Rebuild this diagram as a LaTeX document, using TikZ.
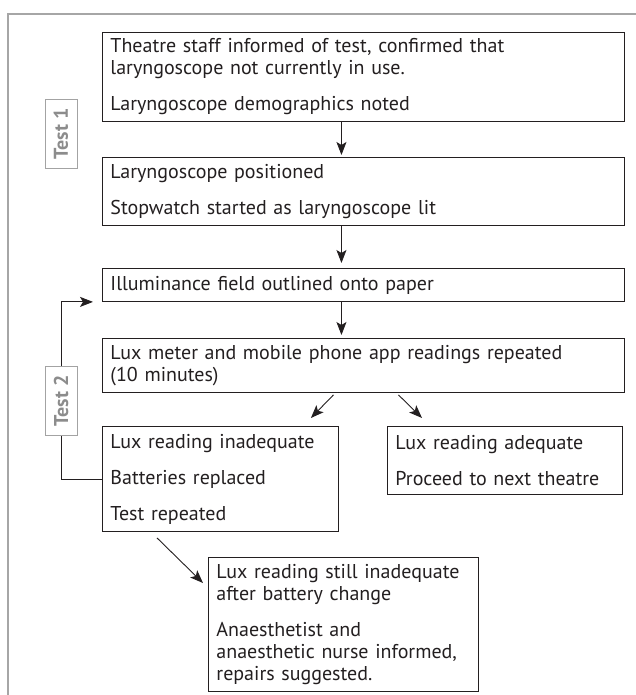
\documentclass[tikz,border=0pt]{standalone}
\usepackage{fontspec}
\setmainfont{PT Sans}
\usetikzlibrary{arrows.meta, positioning, calc}
\definecolor{FlowInk}{HTML}{231F20}
\definecolor{FrameGrey}{HTML}{A6A6A6}
\definecolor{TagGrey}{HTML}{8C8C8C}

\tikzset{
  stepbox/.style={draw=FlowInk, line width=0.9pt, anchor=north west, align=left, inner xsep=8pt, inner ysep=0pt, text=FlowInk, font=\fontsize{20}{22}\selectfont},
  testtag/.style={draw=TagGrey!80, line width=1pt, rotate=90, minimum width=69pt, minimum height=32pt, inner sep=0pt, text=TagGrey, font=\fontsize{20}{22}\selectfont\bfseries},
  flowarrow/.style={-{Stealth[length=13pt,width=10pt,inset=3pt]}, line width=0.9pt, FlowInk},
}

\begin{document}
\begin{tikzpicture}[x=1pt, y=-1pt]
    \useasboundingbox (0,0) rectangle (636,695);
    \draw[FrameGrey, line width=1.5pt] (8,695) -- (8,14) -- (636,14);

    \node[stepbox, text width=506pt, minimum height=89pt] (inform) at (102,32) {Theatre staff informed of test, confirmed that\\laryngoscope not currently in use.\\[14pt]Laryngoscope demographics noted};
    \node[stepbox, text width=506pt, minimum height=68pt] (position) at (102,157) {Laryngoscope positioned\\[14pt]Stopwatch started as laryngoscope lit};
    \node[stepbox, text width=506pt, minimum height=33pt] (outline) at (102,268) {Illuminance field outlined onto paper};
    \node[stepbox, text width=506pt, minimum height=54pt] (readings) at (102,338) {Lux meter and mobile phone app readings repeated\\(10 minutes)};
    \node[stepbox, text width=220pt, minimum height=105pt] (inadequate) at (102,426) {Lux reading inadequate\\[14pt]Batteries replaced\\[14pt]Test repeated};
    \node[stepbox, text width=219pt, minimum height=68pt] (adequate) at (387,426) {Lux reading adequate\\[14pt]Proceed to next theatre};
    \node[stepbox, text width=254pt, minimum height=134pt] (stillbad) at (208,557) {Lux reading still inadequate\\after battery change\\[14pt]Anaesthetist and\\anaesthetic nurse informed,\\repairs suggested.};

    \node[testtag] (test1) at (61,134) {Test 1};
    \node[testtag] (test2) at (61,401) {Test 2};

    \draw[flowarrow] ([xshift=-22pt]inform.south) -- ([xshift=-22pt,yshift=2pt]position.north);
    \draw[flowarrow] ([xshift=-22pt]position.south) -- ([xshift=-22pt,yshift=5pt]outline.north);
    \draw[flowarrow] ([xshift=-22pt]outline.south) -- ([xshift=-22pt,yshift=3pt]readings.north);
    \draw[flowarrow] ([xshift=-30pt,yshift=-2pt]readings.south) -- ([xshift=-28pt,yshift=8pt]inadequate.north east);
    \draw[flowarrow] ([xshift=35pt,yshift=-2pt]readings.south) -- ([xshift=35pt,yshift=8pt]adequate.north west);
    \draw[flowarrow] ([xshift=55pt,yshift=-6pt]inadequate.south west) -- ([xshift=-5pt,yshift=-26pt]stillbad.north west);
    \draw[flowarrow] (test2.east) |- ([xshift=-9pt]outline.south west);
    \draw[FlowInk, line width=0.9pt] (test2.west) |- (inadequate.west);
\end{tikzpicture}
\end{document}
